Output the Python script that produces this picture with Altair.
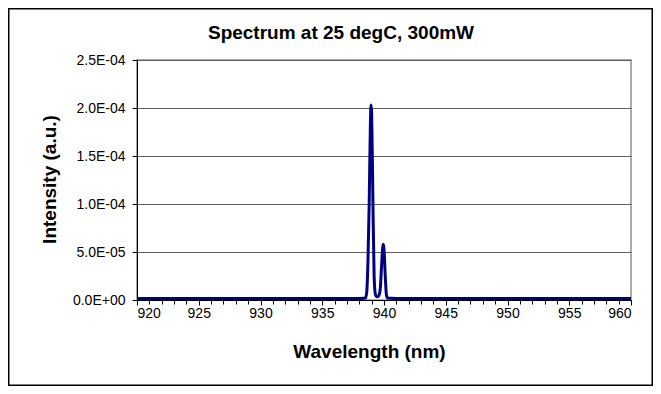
import altair as alt
import pandas as pd

title_text = "Spectrum at 25 degC, 300mW"
wavelength = [920, 930, 938.0, 938.5, 938.6, 938.7, 938.8, 938.9, 938.95, 939.0, 939.1, 939.2,
              939.3, 939.4, 939.5, 939.6, 939.7, 939.8, 939.9, 939.95, 940.0, 940.1, 940.2,
              940.3, 941, 950, 960]
intensity = [1.5e-6, 1.5e-6, 1.5e-6, 2e-6, 8e-6, 4e-5, 1.0e-4, 1.85e-4, 2.03e-4, 1.95e-4, 1.05e-4, 2.5e-5,
             6e-6, 3.5e-6, 3.5e-6, 5e-6, 1.2e-5, 3.5e-5, 5.5e-5, 5.8e-5, 5.3e-5, 2.5e-5, 5e-6,
             2e-6, 1.5e-6, 1.5e-6, 1.5e-6]
x_major = [920, 925, 930, 935, 940, 945, 950, 955, 960]
x_minor = list(range(920, 961))
y_ticks = [0, 5e-5, 1e-4, 1.5e-4, 2e-4, 2.5e-4]
y_labels = ["0.0E+00", "5.0E-05", "1.0E-04", "1.5E-04", "2.0E-04", "2.5E-04"]

df = pd.DataFrame({"wl": wavelength, "I": intensity})
label_expr = "[" + ",".join("'%s'" % s for s in y_labels) + "][round(datum.value/0.00005)]"

FONT = "Liberation Sans"
W, H = 494, 240

xscale = alt.Scale(domain=[920, 960], nice=False, zero=False)
yscale = alt.Scale(domain=[0, 2.5e-4], nice=False)

line = alt.Chart(df).mark_line(color="#000080", strokeWidth=3, interpolate="monotone", clip=True).encode(
    x=alt.X("wl:Q", scale=xscale,
            axis=alt.Axis(orient="bottom", values=x_major, title="Wavelength (nm)", grid=False,
                          labelFont=FONT, labelFontSize=14, labelColor="black", labelPadding=1,
                          tickColor="black", tickSize=5, domainColor="black",
                          titleFont=FONT, titleFontSize=19, titleFontWeight="bold", titleColor="black",
                          titleX=232, titleY=51, titleBaseline="middle", titleAnchor="start",
                          titleAlign="center")),
    y=alt.Y("I:Q", scale=yscale,
            axis=alt.Axis(values=y_ticks, labelExpr=label_expr, title="Intensity (a.u.)",
                          grid=True, gridColor="#606060", gridWidth=1,
                          labelFont=FONT, labelFontSize=14, labelColor="black", labelPadding=7,
                          tickColor="black", tickSize=5, domainColor="black",
                          titleFont=FONT, titleFontSize=19, titleFontWeight="bold", titleColor="black",
                          titleAngle=-90, titleX=-88, titleY=119, titleAlign="center",
                          titleBaseline="middle")),
)

minor = alt.Chart(pd.DataFrame({"wl": x_minor})).mark_point(opacity=0).encode(
    x=alt.X("wl:Q", scale=xscale,
            axis=alt.Axis(orient="bottom", values=x_minor, labels=False, title=None, grid=False,
                          domain=False, tickColor="black", tickSize=4)),
)

title = alt.Chart(pd.DataFrame({"t": [title_text]})).mark_text(
    font=FONT, fontSize=19, fontWeight="bold", color="black", align="center", baseline="middle"
).encode(text="t:N", x=alt.value(204), y=alt.value(-27))

border = alt.Chart(pd.DataFrame({"a": [0]})).mark_rect(
    fill=None, stroke="black", strokeWidth=1.5, clip=False
).encode(x=alt.value(-128.25), x2=alt.value(515.25), y=alt.value(-51.25), y2=alt.value(325.25))

chart = alt.layer(minor, line, title, border).resolve_axis(x="independent").properties(
    width=W, height=H,
    padding={"left": 129, "top": 52, "right": 22, "bottom": 86},
    autosize=alt.AutoSizeParams(type="none"),
    background="white",
).configure_view(stroke="#909090", strokeWidth=1.5)

chart.save("out.html", embed_options={"renderer": "svg", "actions": False})
